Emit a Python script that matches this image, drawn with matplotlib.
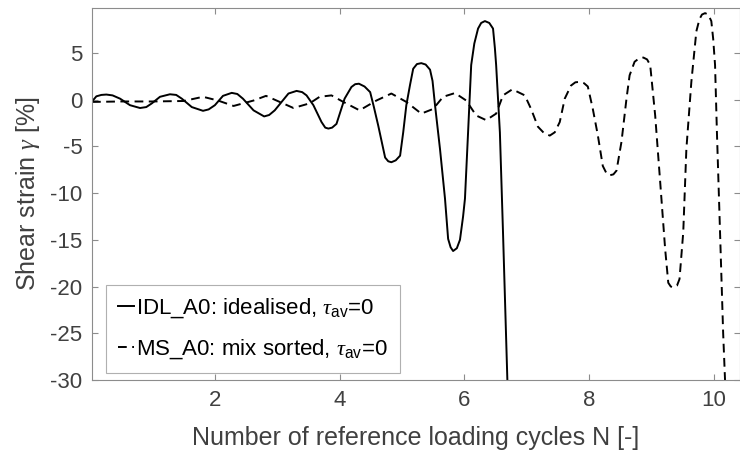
import matplotlib
matplotlib.use("Agg")
import matplotlib.pyplot as plt

plt.rcParams['font.family'] = ['Liberation Sans', 'DejaVu Sans']
plt.rcParams['mathtext.fontset'] = 'custom'
plt.rcParams['mathtext.rm'] = 'Liberation Sans'
plt.rcParams['mathtext.it'] = 'Liberation Serif:italic'
plt.rcParams['axes.unicode_minus'] = False

# IDL_A0: idealised (solid)
idl_n = [0.03, 0.10, 0.18, 0.26, 0.36, 0.48, 0.64, 0.80, 0.90, 0.99, 1.12, 1.28, 1.38,
         1.47, 1.63, 1.81, 1.90, 2.00, 2.13, 2.27, 2.36, 2.45, 2.62, 2.79, 2.87, 2.96,
         3.07, 3.18, 3.31, 3.40, 3.47, 3.58, 3.71, 3.77, 3.82, 3.88, 3.95, 4.08, 4.19,
         4.25, 4.31, 4.40, 4.49, 4.55, 4.62, 4.73, 4.78, 4.83, 4.90, 4.97, 5.02, 5.07,
         5.13, 5.18, 5.24, 5.31, 5.38, 5.45, 5.49, 5.53, 5.61, 5.69, 5.74, 5.78, 5.82,
         5.88, 5.93, 5.98, 6.01, 6.06, 6.11, 6.16, 6.22, 6.27, 6.33, 6.40, 6.46, 6.49,
         6.51, 6.57, 6.62, 6.69]
idl_g = [-0.2, 0.35, 0.5, 0.54, 0.45, 0.1, -0.6, -0.9, -0.8, -0.4, 0.3, 0.57, 0.5,
         0.1, -0.8, -1.2, -1.05, -0.6, 0.4, 0.72, 0.6, 0.1, -1.15, -1.8, -1.65, -1.15,
         -0.25, 0.65, 0.93, 0.8, 0.45, -0.6, -2.4, -3.0, -3.1, -3.0, -2.6, 0.1, 1.35,
         1.65, 1.7, 1.4, 0.8, -0.8, -2.8, -6.2, -6.6, -6.7, -6.5, -6.0, -3.5, -0.6,
         1.6, 3.3, 3.8, 3.9, 3.75, 3.2, 2.0, -0.6, -5.3, -10.6, -14.9, -15.8, -16.2,
         -15.9, -15.0, -12.5, -10.6, -3.5, 3.7, 6.0, 7.6, 8.2, 8.4, 8.2, 7.6, 5.5,
         3.7, -3.5, -14.2, -30.0]

# MS_A0: mix sorted (dashed)
ms_n = [0.03, 0.5, 1.0, 1.5, 1.81, 2.05, 2.30, 2.62, 2.82, 3.04, 3.26, 3.52,
        3.68, 3.87, 4.06, 4.32, 4.59, 4.83, 5.07, 5.31, 5.50, 5.66, 5.85, 6.03,
        6.19, 6.35, 6.51, 6.62, 6.77, 6.97, 7.07, 7.18, 7.28, 7.37, 7.45, 7.53, 7.61,
        7.71, 7.78, 7.85, 7.92, 7.98, 8.06, 8.14, 8.22, 8.28, 8.33, 8.39, 8.44, 8.52,
        8.60, 8.65, 8.73, 8.80, 8.87, 8.93, 8.98, 9.06, 9.14, 9.22, 9.27, 9.31, 9.35,
        9.41, 9.45, 9.51, 9.56, 9.64, 9.72, 9.77, 9.81, 9.86, 9.91, 9.96, 9.99, 10.02,
        10.05, 10.10, 10.15, 10.18]
ms_g = [-0.25, -0.2, -0.2, -0.15, 0.3, -0.1, -0.68, -0.1, 0.4, -0.25, -0.9, -0.4,
        0.3, 0.45, -0.25, -1.15, -0.1, 0.65, -0.25, -1.5, -1.0, 0.3, 0.7, -0.1,
        -1.7, -2.2, -1.5, 0.45, 1.1, 0.45, -1.0, -2.9, -3.6, -3.85, -3.5, -2.4, 0.1,
        1.5, 1.85, 1.9, 1.75, 1.4, -1.0, -3.8, -7.1, -7.9, -8.1, -8.0, -7.6, -4.5,
        0.1, 2.6, 4.05, 4.4, 4.5, 4.3, 3.7, -1.7, -8.8, -16.0, -19.6, -20.0, -20.1,
        -19.9, -19.2, -14.2, -5.3, 1.9, 7.3, 8.6, 9.1, 9.25, 9.1, 8.4, 6.5, 3.7,
        -3.5, -14.2, -25.0, -30.0]

x_ticks = [2, 4, 6, 8, 10]
y_ticks = [-30, -25, -20, -15, -10, -5, 0, 5]

fig = plt.figure(figsize=(7.4, 4.59), dpi=100)
ax = fig.add_axes([92 / 740, 1 - 380 / 459, 648 / 740, 372 / 459])

ax.plot(idl_n, idl_g, color='black', lw=1.4, label=r'IDL_A0: idealised, $\tau_{\mathrm{av}}$=0')
ax.plot(ms_n, ms_g, color='black', lw=1.4, dashes=(4.5, 2.8),
        label=r'MS_A0: mix sorted, $\tau_{\mathrm{av}}$=0')

ax.set_xlim(0.03, 10.42)
ax.set_ylim(-30, 9.8)
ax.set_xticks(x_ticks)
ax.set_yticks(y_ticks)

grey = '#8c8c8c'
for s in ax.spines.values():
    s.set_color(grey)
ax.tick_params(direction='in', top=True, right=True, color=grey, length=4,
               labelsize=16, labelcolor='#404040', pad=7)

ax.set_xlabel('Number of reference loading cycles N [-]', fontsize=18, color='#404040', labelpad=11)
ax.set_ylabel(r'Shear strain $\gamma$ [%]', fontsize=18, color='#404040', labelpad=6)

leg = ax.legend(loc='lower left', bbox_to_anchor=(0.0216, 0.019), borderaxespad=0,
                fontsize=16, handlelength=0.7, handletextpad=0.1, borderpad=0.55,
                labelspacing=0.75, fancybox=False, framealpha=1)
leg.get_frame().set_edgecolor('#b0b0b0')
leg.get_frame().set_linewidth(0.8)

fig.savefig('out.png', dpi=100)
